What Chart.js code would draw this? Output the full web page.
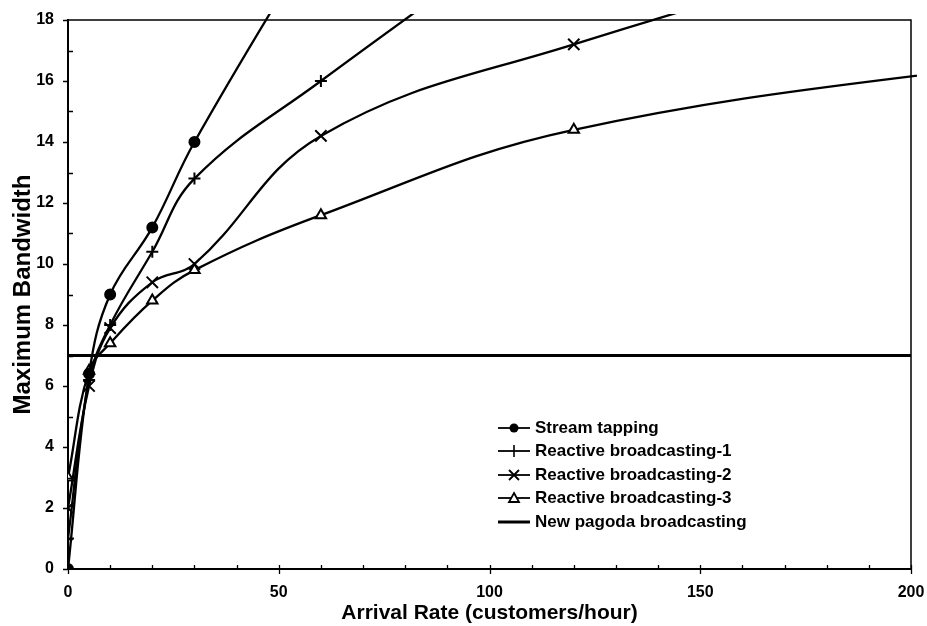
<!DOCTYPE html>
<html><head><meta charset="utf-8">
<script src="https://cdn.jsdelivr.net/npm/chart.js@4/dist/chart.umd.min.js"></script>
<style>
html,body{margin:0;padding:0;background:#fff;}
#wrap{position:relative;width:927px;height:626px;}
#legend{position:absolute;left:497px;top:416px;font-family:"Liberation Sans",Arial,sans-serif;font-weight:bold;font-size:17px;color:#000;}
.row{display:flex;align-items:center;height:23.5px;white-space:nowrap;}
.row svg{margin-right:4px;flex:none}
</style></head>
<body><div id="wrap"><canvas id="c" width="927" height="626"></canvas><div id="legend"></div></div>
<script>
// ---- data ----
const arrivalRates = [0, 5, 10, 20, 30, 60, 120, 240];
const streamTapping = [0, 6.4, 9, 11.2, 14, 21];
const reactive1 = [1, 6.2, 8, 10.4, 12.8, 16, 22];
const reactive2 = [2, 6, 7.9, 9.4, 10, 14.2, 17.2, 22];
const reactive3 = [3, 6.5, 7.4, 8.8, 9.8, 11.6, 14.4, 16.9];
const pagodaRates = [0, 200];
const pagodaBandwidth = [7, 7];
const seriesNames = ['Stream tapping', 'Reactive broadcasting-1', 'Reactive broadcasting-2', 'Reactive broadcasting-3', 'New pagoda broadcasting'];
const xTickValues = [0, 50, 100, 150, 200];
const yTickValues = [0, 2, 4, 6, 8, 10, 12, 14, 16, 18];
const xTitle = 'Arrival Rate (customers/hour)';
const yTitle = 'Maximum Bandwidth';

const FONT = '"Liberation Sans", Arial, sans-serif';
const toXY = (xs, ys) => ys.map((v, i) => ({x: xs[i], y: v}));

const markerStyles = [
  {pointStyle: 'circle', radius: 5, fill: '#000'},
  {pointStyle: 'cross', radius: 6, fill: '#fff'},
  {pointStyle: 'crossRot', radius: 8, fill: '#fff'},
  {pointStyle: 'triangle', radius: 6, fill: '#fff'},
  {pointStyle: false, radius: 0, fill: '#fff'}
];
const seriesValues = [streamTapping, reactive1, reactive2, reactive3];

const datasets = seriesValues.map((vals, i) => ({
  label: seriesNames[i],
  data: toXY(arrivalRates, vals),
  borderColor: '#000',
  borderWidth: 2.3,
  backgroundColor: markerStyles[i].fill,
  pointStyle: markerStyles[i].pointStyle,
  pointRadius: markerStyles[i].radius,
  pointBorderColor: '#000',
  pointBorderWidth: 2,
  pointBackgroundColor: markerStyles[i].fill,
  tension: 0.4,
  fill: false,
  clip: {left: 0, top: 6, right: 6, bottom: 0}
}));
datasets.push({
  label: seriesNames[4],
  data: toXY(pagodaRates, pagodaBandwidth),
  borderColor: '#000',
  borderWidth: 3,
  pointRadius: 0,
  tension: 0,
  fill: false
});

const frameTicks = {
  id: 'frameTicks',
  afterDraw(chart) {
    const {ctx, chartArea: a, scales: {x, y}} = chart;
    ctx.save();
    ctx.strokeStyle = '#000';
    ctx.lineWidth = 1.5;
    ctx.beginPath();
    ctx.moveTo(a.left, a.top); ctx.lineTo(a.right, a.top); ctx.lineTo(a.right, a.bottom);
    ctx.stroke();
    ctx.lineWidth = 1.3;
    ctx.beginPath();
    for (let v = 0; v <= 200; v += 10) {
      const px = Math.round(x.getPixelForValue(v)) + 0.5;
      const major = xTickValues.includes(v);
      ctx.moveTo(px, a.bottom + (major ? 5 : 0));
      ctx.lineTo(px, a.bottom - 4);
    }
    for (let v = 0; v <= 18; v += 1) {
      const py = Math.round(y.getPixelForValue(v)) + 0.5;
      const major = yTickValues.includes(v);
      if (major) { ctx.moveTo(a.left - 5, py); ctx.lineTo(a.left + 1, py); }
      else { ctx.moveTo(a.left, py); ctx.lineTo(a.left + 5, py); }
    }
    ctx.stroke();
    ctx.restore();
  }
};

new Chart(document.getElementById('c'), {
  type: 'line',
  data: {datasets},
  plugins: [frameTicks],
  options: {
    responsive: false,
    animation: false,
    devicePixelRatio: 1,
    events: [],
    layout: {padding: {left: 0, top: 20, right: 16, bottom: 0}},
    plugins: {legend: {display: false}, tooltip: {enabled: false}},
    scales: {
      x: {
        type: 'linear', min: 0, max: 200,
        afterFit: s => { s.height = 57; s.paddingLeft = 0; s.paddingRight = 0; },
        afterBuildTicks: s => { s.ticks = xTickValues.map(v => ({value: v})); },
        grid: {display: true, drawOnChartArea: false, drawTicks: false},
        border: {display: true, color: '#000', width: 2},
        ticks: {color: '#000', font: {family: FONT, size: 16, weight: 'bold'}, padding: 14, maxRotation: 0},
        title: {display: true, text: xTitle, color: '#000', font: {family: FONT, size: 21, weight: 'bold'}, padding: {top: 0, bottom: 0}}
      },
      y: {
        type: 'linear', min: 0, max: 18,
        afterFit: s => { s.width = 68; s.paddingTop = 0; s.paddingBottom = 0; },
        afterBuildTicks: s => { s.ticks = yTickValues.map(v => ({value: v})); },
        grid: {display: true, drawOnChartArea: false, drawTicks: false},
        border: {display: true, color: '#000', width: 2},
        ticks: {color: '#000', font: {family: FONT, size: 16, weight: 'bold'}, padding: 14},
        title: {display: true, text: yTitle, color: '#000', font: {family: FONT, size: 24, weight: 'bold'}, padding: {top: 9, bottom: 0}}
      }
    }
  }
});

// HTML legend built from the series names
const legendEl = document.getElementById('legend');
seriesNames.forEach((name, i) => {
  const row = document.createElement('div');
  row.className = 'row';
  let marker = '';
  const cx = 17, cy = 10;
  if (i === 0) marker = `<circle cx="${cx}" cy="${cy}" r="4.5" fill="#000"/>`;
  if (i === 1) marker = `<path d="M${cx} ${cy-6}V${cy+6}" stroke="#000" stroke-width="1.6"/>`;
  if (i === 2) marker = `<path d="M${cx-5} ${cy-5}L${cx+5} ${cy+5}M${cx-5} ${cy+5}L${cx+5} ${cy-5}" stroke="#000" stroke-width="1.8"/>`;
  if (i === 3) marker = `<path d="M${cx} ${cy-5}L${cx+5} ${cy+4}L${cx-5} ${cy+4}Z" fill="#fff" stroke="#000" stroke-width="1.8"/>`;
  const lw = i === 4 ? 3 : 1.8;
  row.innerHTML = `<svg width="34" height="20" viewBox="0 0 34 20"><line x1="1" y1="${cy}" x2="33" y2="${cy}" stroke="#000" stroke-width="${lw}"/>${marker}</svg><span>${name}</span>`;
  legendEl.appendChild(row);
});
</script>
</body></html>
